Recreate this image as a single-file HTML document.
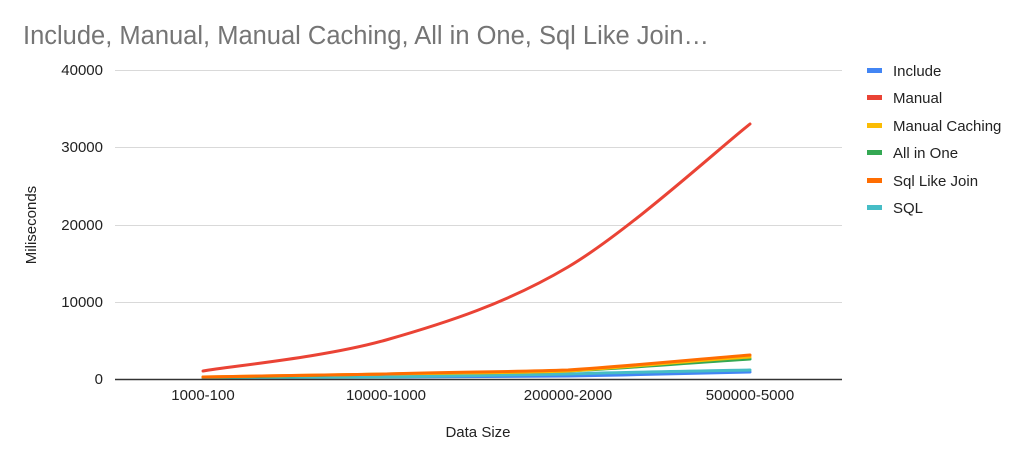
<!DOCTYPE html>
<html><head><style>
body{margin:0;background:#fff;font-family:"Liberation Sans",sans-serif;}
</style></head><body>
<svg width="1024" height="463" xmlns="http://www.w3.org/2000/svg" font-family="Liberation Sans, sans-serif">
<rect width="1024" height="463" fill="#fff"/>
<text x="23" y="44" font-size="25.5" fill="#757575">Include, Manual, Manual Caching, All in One, Sql Like Join…</text>
<g stroke="#d9d9d9" stroke-width="1">
<line x1="115" x2="842" y1="70.5" y2="70.5"/>
<line x1="115" x2="842" y1="147.5" y2="147.5"/>
<line x1="115" x2="842" y1="225.5" y2="225.5"/>
<line x1="115" x2="842" y1="302.5" y2="302.5"/>
</g>
<g font-size="15" fill="#222" text-anchor="end">
<text x="103" y="75">40000</text>
<text x="103" y="152">30000</text>
<text x="103" y="230">20000</text>
<text x="103" y="307">10000</text>
<text x="103" y="384">0</text>
</g>
<g font-size="15" fill="#222" text-anchor="middle">
<text x="203" y="400">1000-100</text>
<text x="386" y="400">10000-1000</text>
<text x="568" y="400">200000-2000</text>
<text x="750" y="400">500000-5000</text>
<text x="478" y="437">Data Size</text>
</g>
<text x="36" y="225" font-size="15" fill="#222" text-anchor="middle" transform="rotate(-90 36 225)">Miliseconds</text>
<g fill="none" stroke-width="3" stroke-linecap="round">
<path d="M203,377 C260,377 330,377 386,377 C450,377 510,376 568,376 C630,375 700,373 750,372" stroke="#4285f4"/>
<path d="M203,378 C260,378 330,377 386,377 C450,376 510,375 568,374 C630,372 700,371 750,370" stroke="#46bdc6"/>
<path d="M203,377 C260,377 330,375 386,374 C450,373 510,373 568,371 C630,368 700,362 750,359" stroke="#34a853"/>
<path d="M203,377 C260,376 330,375 386,374 C450,373 510,373 568,371 C630,367 700,360 750,357" stroke="#fbbc04"/>
<path d="M203,377 C260,376 330,375 386,374 C450,372 510,372 568,370 C630,366 700,359 750,355" stroke="#ff6d01"/>
<path d="M203,371 C233.5,365.8 325.2,357.3 386,340 C446.8,322.7 507.3,303 568,267 C628.7,231 719.7,147.8 750,124" stroke="#ea4335"/>
</g>
<line x1="115" x2="842" y1="379.5" y2="379.5" stroke="#333" stroke-width="1.5"/>
<g font-size="15" fill="#222">
<rect x="867" y="68" width="15" height="5" fill="#4285f4"/><text x="893" y="76">Include</text>
<rect x="867" y="95" width="15" height="5" fill="#ea4335"/><text x="893" y="103">Manual</text>
<rect x="867" y="123" width="15" height="5" fill="#fbbc04"/><text x="893" y="131">Manual Caching</text>
<rect x="867" y="150" width="15" height="5" fill="#34a853"/><text x="893" y="158">All in One</text>
<rect x="867" y="178" width="15" height="5" fill="#ff6d01"/><text x="893" y="186">Sql Like Join</text>
<rect x="867" y="205" width="15" height="5" fill="#46bdc6"/><text x="893" y="213">SQL</text>
</g>
</svg>
</body></html>
